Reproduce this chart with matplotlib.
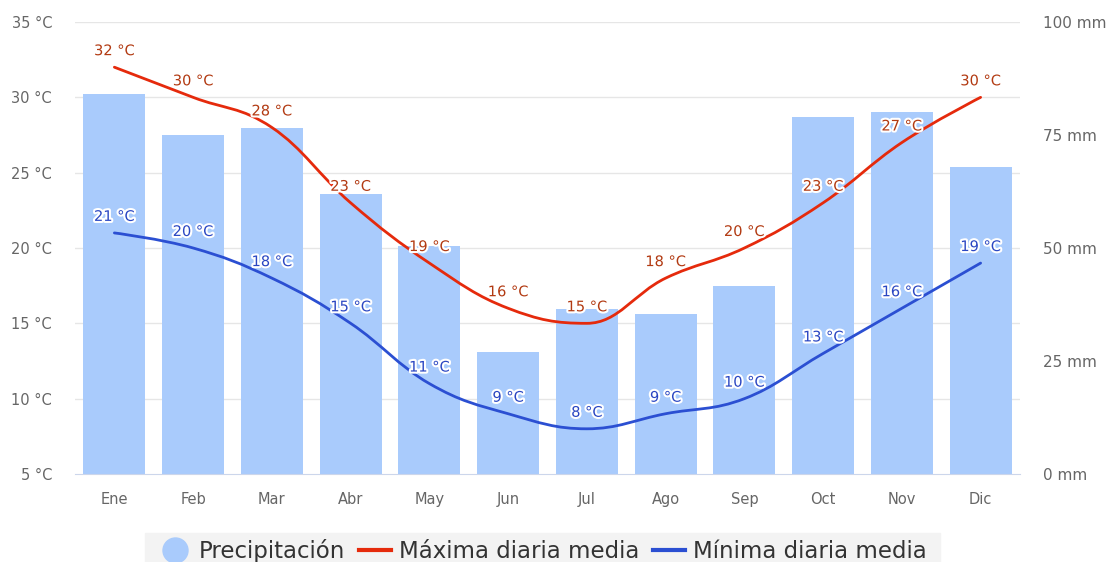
import numpy as np
import matplotlib
matplotlib.use("Agg")
import matplotlib.pyplot as plt
from matplotlib.path import Path
from matplotlib.patches import PathPatch, Rectangle
from matplotlib.lines import Line2D
import matplotlib.patheffects as pe

months = ["Ene", "Feb", "Mar", "Abr", "May", "Jun", "Jul", "Ago", "Sep", "Oct", "Nov", "Dic"]
precip_mm = [84, 75, 76.5, 62, 50.5, 27, 36.5, 35.5, 41.5, 79, 80, 68]
t_max = [32, 30, 28, 23, 19, 16, 15, 18, 20, 23, 27, 30]
t_min = [21, 20, 18, 15, 11, 9, 8, 9, 10, 13, 16, 19]
temp_ticks = [5, 10, 15, 20, 25, 30, 35]
mm_ticks = [0, 25, 50, 75, 100]

BAR = "#a9cbfc"
RED = "#e52a0c"
RED_TXT = "#b23a12"
BLUE = "#2b4fd2"
BLUE_TXT = "#2a46c2"
GRAY = "#666666"


def spline_path(xs, ys, smoothing=1.5):
    n = len(xs)
    denom = smoothing + 1
    lc = [(xs[i], ys[i]) for i in range(n)]
    rc = [(xs[i], ys[i]) for i in range(n)]
    for i in range(1, n - 1):
        x, y = xs[i], ys[i]
        lx0, ly0 = xs[i - 1], ys[i - 1]
        nx, ny = xs[i + 1], ys[i + 1]
        lcx = (smoothing * x + lx0) / denom
        lcy = (smoothing * y + ly0) / denom
        rcx = (smoothing * x + nx) / denom
        rcy = (smoothing * y + ny) / denom
        if rcx != lcx:
            corr = ((rcy - lcy) * (rcx - x)) / (rcx - lcx) + y - rcy
            lcy += corr
            rcy += corr
        if lcy > ly0 and lcy > y:
            lcy = max(ly0, y); rcy = 2 * y - lcy
        elif lcy < ly0 and lcy < y:
            lcy = min(ly0, y); rcy = 2 * y - lcy
        if rcy > ny and rcy > y:
            rcy = max(ny, y); lcy = 2 * y - rcy
        elif rcy < ny and rcy < y:
            rcy = min(ny, y); lcy = 2 * y - rcy
        lc[i] = (lcx, lcy)
        rc[i] = (rcx, rcy)
    verts = [(xs[0], ys[0])]
    codes = [Path.MOVETO]
    for i in range(1, n):
        verts += [rc[i - 1], lc[i], (xs[i], ys[i])]
        codes += [Path.CURVE4] * 3
    return Path(verts, codes)


fig = plt.figure(figsize=(11.11, 5.62), dpi=100)
ax = fig.add_axes([75 / 1111, 1 - 474 / 562, (1020 - 75) / 1111, (474 - 22) / 562])
ax2 = ax.twinx()

x = np.arange(len(months))

# bars on secondary (mm) axis, drawn beneath lines
ax2.bar(x, precip_mm, width=0.79, color=BAR, zorder=1)
ax2.set_ylim(0, 100)
ax2.set_yticks(mm_ticks)
ax2.set_yticklabels([f"{v} mm" for v in mm_ticks])

ax.set_zorder(ax2.get_zorder() + 1)
ax.patch.set_visible(False)
ax2.set_zorder(0)

ax.set_xlim(-0.5, 11.5)
ax.set_ylim(5, 35)
ax.set_yticks(temp_ticks)
ax.set_yticklabels([f"{v} °C" for v in temp_ticks])
ax.set_xticks(x)
ax.set_xticklabels(months)

# grid drawn on the bar axis so it sits behind bars
for v in temp_ticks[1:]:
    yy = (v - 5) / 30 * 100
    ax2.axhline(yy, color="#e6e6e6", lw=1, zorder=0)

for a in (ax, ax2):
    for s in a.spines.values():
        s.set_visible(False)
    a.tick_params(length=0, colors=GRAY, labelsize=10.5)
ax2.tick_params(axis="y", labelsize=11)
ax.tick_params(axis="y", pad=16.5)
ax2.tick_params(axis="y", pad=16.5)
ax.tick_params(axis="x", pad=13)
ax.spines["bottom"].set_visible(True)
ax.spines["bottom"].set_color("#ccd6eb")

for data, col, tcol in ((t_max, RED, RED_TXT), (t_min, BLUE, BLUE_TXT)):
    p = spline_path(list(x.astype(float)), list(map(float, data)))
    ax.add_patch(PathPatch(p, fc="none", ec=col, lw=2, zorder=3, capstyle="round"))
    for xi, v in zip(x, data):
        ax.annotate(f"{v} °C", (xi, v), xytext=(0, 6.5), textcoords="offset points",
                    ha="center", va="bottom", fontsize=10.5, color=tcol, zorder=5,
                    path_effects=[pe.withStroke(linewidth=3, foreground="white")])

# legend background strip
fig.patches.append(Rectangle((145 / 1111, 0), (940 - 145) / 1111, (562 - 533) / 562,
                             transform=fig.transFigure, color="#f3f3f3", zorder=0))

handles = [
    Line2D([], [], marker="o", ls="none", ms=18, color=BAR),
    Line2D([], [], color=RED, lw=3),
    Line2D([], [], color=BLUE, lw=3),
]
labels = ["Precipitación", "Máxima diaria media", "Mínima diaria media"]
fig.legend(handles, labels, loc="center", bbox_to_anchor=(543 / 1111, 1 - 551 / 562),
           ncol=3, frameon=False, fontsize=16.5, labelcolor="#333333",
           handlelength=1.4, handletextpad=0.35, columnspacing=0.6)

fig.savefig("out.png", dpi=100)
